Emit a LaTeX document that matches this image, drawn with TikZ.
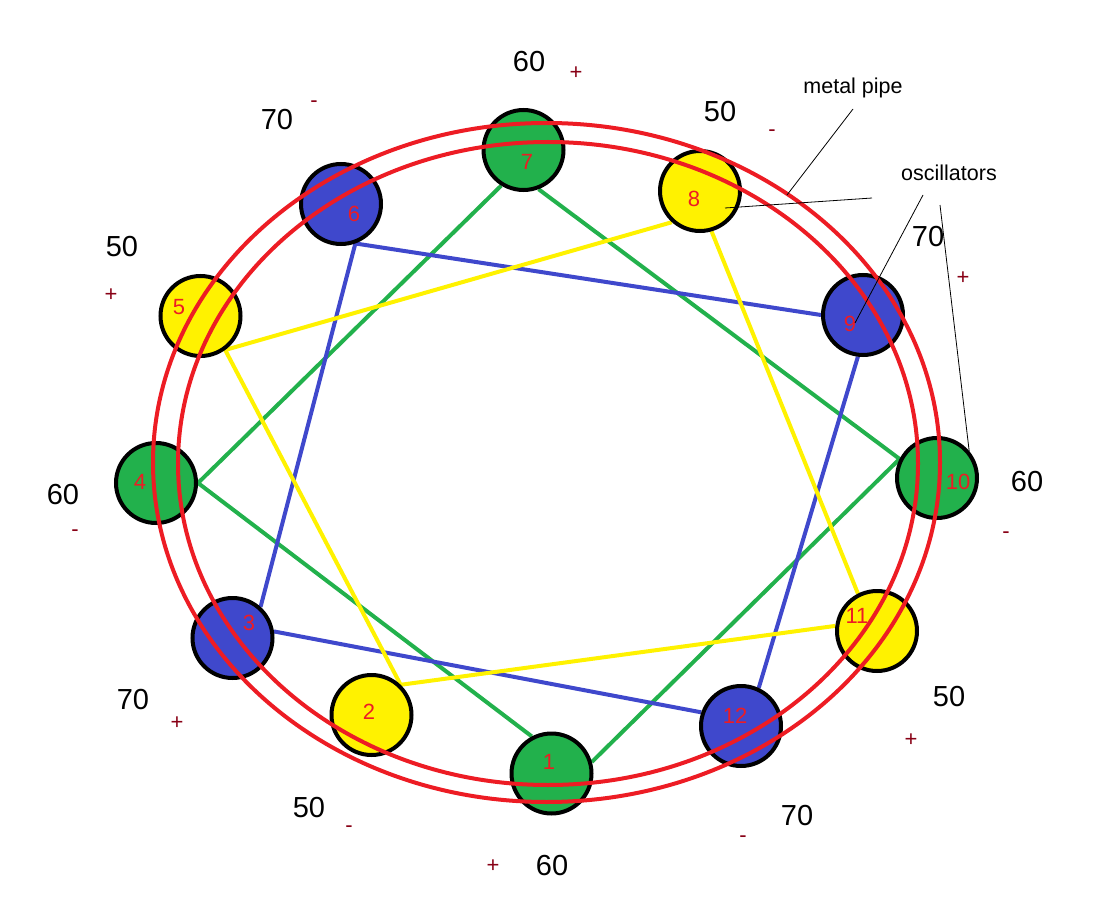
\documentclass[tikz,border=0pt]{standalone}
\usepackage{fontspec}
\setmainfont{Liberation Sans}

\definecolor{oscgreen}{HTML}{22B14C}
\definecolor{oscyellow}{HTML}{FFF200}
\definecolor{oscblue}{HTML}{3F48CC}
\definecolor{pipered}{HTML}{ED1C24}
\definecolor{signred}{HTML}{880015}

\pgfdeclarelayer{background}
\pgfsetlayers{background,main}

\begin{document}
\begin{tikzpicture}[x=1pt,y=-1pt,main node/.style={circle,draw=black,line width=4pt,minimum size=80pt,inner sep=0pt},num/.style={text=pipered,font=\fontsize{22}{22}\selectfont,inner sep=0pt},value/.style={font=\fontsize{29}{29}\selectfont,inner sep=0pt},sign/.style={text=signred,font=\fontsize{22}{22}\selectfont,inner sep=0pt},link/.style={line width=4pt},pipe/.style={draw=pipered,line width=4pt},note/.style={font=\fontsize{21.5}{21.5}\selectfont,inner sep=0pt},note line/.style={draw=black,line width=0.8pt}]

        \useasboundingbox (0,0) rectangle (1117,912);

        \node[main node,fill=oscgreen] (1) at (551.5,773.5) {};
        \node[main node,fill=oscyellow] (2) at (371.5,715) {};
        \node[main node,fill=oscblue] (3) at (232.5,638) {};
        \node[main node,fill=oscgreen] (4) at (156,483) {};
        \node[main node,fill=oscyellow] (5) at (200.5,316) {};
        \node[main node,fill=oscblue] (6) at (341,204) {};
        \node[main node,fill=oscgreen] (7) at (523.5,150) {};
        \node[main node,fill=oscyellow] (8) at (700,191) {};
        \node[main node,fill=oscblue] (9) at (863,315) {};
        \node[main node,fill=oscgreen] (10) at (937,478) {};
        \node[main node,fill=oscyellow] (11) at (877,631) {};
        \node[main node,fill=oscblue] (12) at (741,726) {};

        \node[num] (n1) at (549,762) {1};
        \node[num] (n2) at (369,712) {2};
        \node[num] (n3) at (249,623) {3};
        \node[num] (n4) at (140,482) {4};
        \node[num] (n5) at (179,307) {5};
        \node[num] (n6) at (354,214) {6};
        \node[num] (n7) at (527,162) {7};
        \node[num] (n8) at (694,199) {8};
        \node[num] (n9) at (850,324) {9};
        \node[num] (n10) at (958,482) {10};
        \node[num] (n11) at (857,616) {11};
        \node[num] (n12) at (735,716) {12};

        \begin{pgfonlayer}{background}
        \draw[link,draw=oscgreen] (7.-122) -- (4.0) -- (1.118);
        \draw[link,draw=oscgreen] (1.16) -- (10.153) -- (7.-69);
        \draw[link,draw=oscblue] (9.180) -- (6.-70) -- (3.48);
        \draw[link,draw=oscblue] (3.9) -- (12.161);
        \draw[link,draw=oscblue] (12.65) -- (9.-97);
        \draw[link,draw=oscyellow] (8.-132) -- (5.-54) -- (2.46) -- (11.173);
        \draw[link,draw=oscyellow] (11.117) -- (8.-74);
        \end{pgfonlayer}

        % metal pipe
        \coordinate (outer pipe) at (546.5,462.5);
        \coordinate (inner pipe) at (548,463.5);
        \draw[pipe] (outer pipe) ellipse [x radius=393.5pt,y radius=339.5pt];
        \draw[pipe] (inner pipe) ellipse [x radius=370pt,y radius=321.5pt];

        % values
        \node[value] (v7) at (529,62) {60};
        \node[sign] (s7) at (576,73) {+};
        \node[value] (v8) at (720,112) {50};
        \node[sign] (s8) at (772,133) {-};
        \node[value] (v9) at (928,237) {70};
        \node[sign] (s9) at (963,278) {+};
        \node[value] (v10) at (1027,482) {60};
        \node[sign] (s10) at (1006,535) {-};
        \node[value] (v11) at (949,697) {50};
        \node[sign] (s11) at (911,740) {+};
        \node[value] (v12) at (797,816) {70};
        \node[sign] (s12) at (743,839) {-};
        \node[value] (v1) at (552,866) {60};
        \node[sign] (s1) at (493,866) {+};
        \node[value] (v2) at (309,808) {50};
        \node[sign] (s2) at (349,829) {-};
        \node[value] (v3) at (133,700) {70};
        \node[sign] (s3) at (177,723) {+};
        \node[value] (v4) at (63,495) {60};
        \node[sign] (s4) at (75,533) {-};
        \node[value] (v5) at (122,247) {50};
        \node[sign] (s5) at (111,295) {+};
        \node[value] (v6) at (277,120) {70};
        \node[sign] (s6) at (314,104) {-};

        % notes
        \node[note] (metal) at (853,88) {metal pipe};
        \node[note] (oscillators) at (949,173) {oscillators};
        \coordinate (metal foot) at (853,109);
        \coordinate (pipe point) at (787,195);
        \coordinate (osc a) at (872,198);
        \coordinate (osc b) at (923,195);
        \coordinate (osc c) at (940,205);
        \draw[note line] (metal foot) -- (pipe point);
        \draw[note line] (osc a) -- ([shift={(25,17)}]8.center);
        \draw[note line] (osc b) -- ([shift={(-8,8)}]9.center);
        \draw[note line] (osc c) -- (10.40);
    \end{tikzpicture}
\end{document}
